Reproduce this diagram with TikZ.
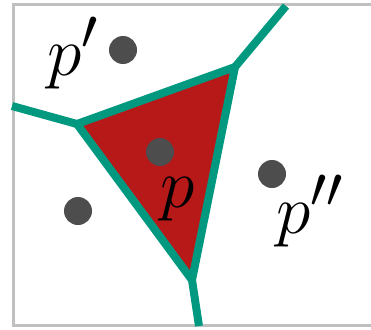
\documentclass[tikz,border=0pt]{standalone}
\usepackage{xcolor}
\usepackage{tikz}

\definecolor{edgeteal}{RGB}{0,153,128}
\definecolor{cellred}{RGB}{183,24,24}
\definecolor{sitegray}{RGB}{77,77,77}
\definecolor{framegray}{RGB}{192,192,192}

\begin{document}
\begin{tikzpicture}[
    x=1pt, y=-1pt,
    site/.style={circle, fill=sitegray, minimum size=28pt, inner sep=0pt},
    lbl/.style={anchor=base west, inner sep=0pt, font=\Huge, scale=2.8},
    edge/.style={draw=edgeteal, line width=8pt},
    cell/.style={fill=cellred},
]
\useasboundingbox (0,0) rectangle (371,329);

% frame
\draw[framegray, line width=3pt] (13,5) rectangle (390,325);

% voronoi vertices
\coordinate (va) at (77,124);
\coordinate (vb) at (235,67);
\coordinate (vc) at (192,280);
\coordinate (eleft) at (12,106);
\coordinate (etop) at (286,6);
\coordinate (ebot) at (199,326);

% cell of p
\fill[cell] (va) -- (vb) -- (vc) -- cycle;

\draw[edge] (eleft) -- (va);
\draw[edge] (vb) -- (etop);
\draw[edge] (vc) -- (ebot);
\draw[edge] (va) -- (vb) -- (vc) -- cycle;

% sites
\node[site] (p1) at (123,50) {};
\node[site] (p0) at (160,152) {};
\node[site] (p3) at (78,211) {};
\node[site] (p2) at (272,174) {};

% labels
\node[lbl] (lp1) at (47,75) {$p'$};
\node[lbl] (lp0) at (160,207) {$p$};
\node[lbl] (lp2) at (276,233) {$p''$};

\end{tikzpicture}
\end{document}
